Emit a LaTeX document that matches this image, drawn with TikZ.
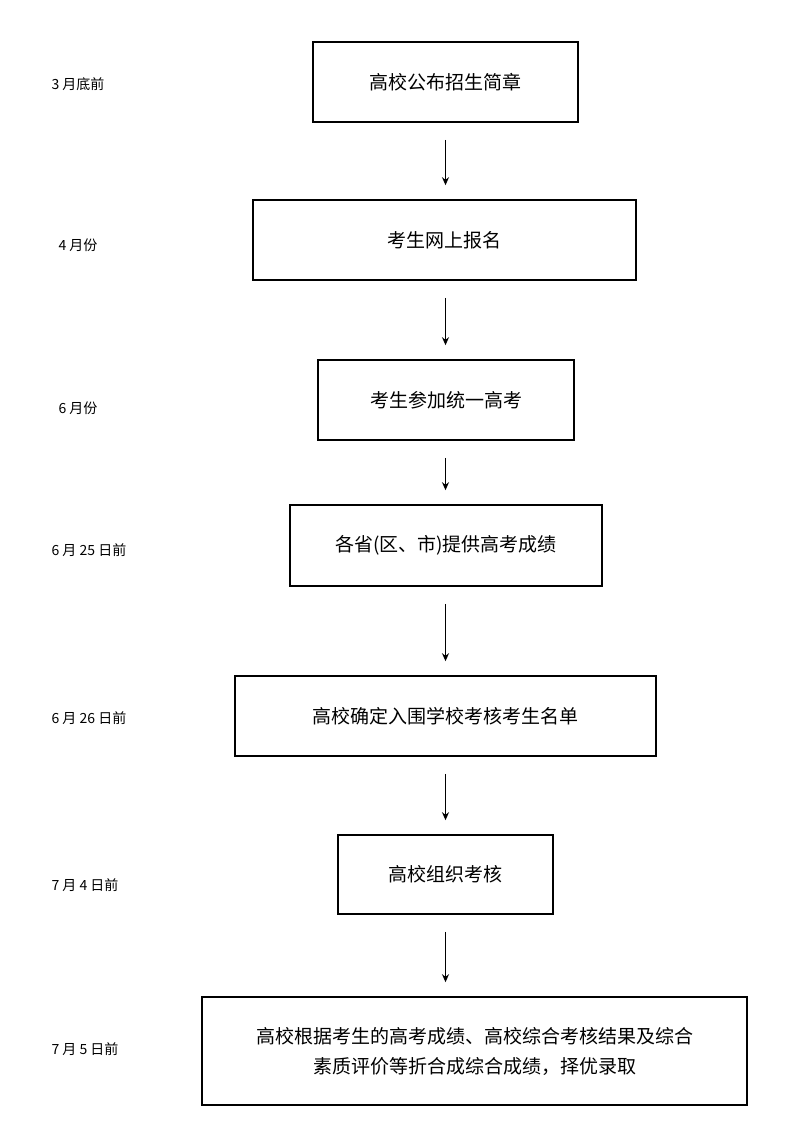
\documentclass[tikz,border=0pt]{standalone}
\usepackage{fontspec}
\setmainfont{Liberation Serif}
\newfontfamily\cjk{Noto Sans CJK SC}
\usetikzlibrary{positioning,arrows.meta}
\tikzset{
  stage/.style={draw,line width=1.6pt,font=\cjk\fontsize{19}{30}\selectfont,align=center,inner sep=0pt},
  when/.style={anchor=west,font=\cjk\fontsize{14}{17}\selectfont},
  flow/.style={-{Stealth[length=8pt,width=7pt]},line width=1.2pt}
}
\begin{document}
\begin{tikzpicture}[x=1pt,y=-1pt]
  \useasboundingbox[fill=white] (0,0) rectangle (800,1142);
  % boxes
  \node[stage,minimum width=265,minimum height=80] (s1) at (445.5,82) {高校公布招生简章};
  \node[stage,minimum width=383,minimum height=80] (s2) at (444.5,240) {考生网上报名};
  \node[stage,minimum width=256,minimum height=80] (s3) at (446,400) {考生参加统一高考};
  \node[stage,minimum width=312,minimum height=81] (s4) at (446,545.5) {各省(区、市)提供高考成绩};
  \node[stage,minimum width=421,minimum height=80] (s5) at (445.5,716) {高校确定入围学校考核考生名单};
  \node[stage,minimum width=215,minimum height=79] (s6) at (445.5,874.5) {高校组织考核};
  \node[stage,minimum width=545,minimum height=108] (s7) at (474.5,1051) {高校根据考生的高考成绩、高校综合考核结果及综合\\素质评价等折合成综合成绩，择优录取};
  % arrows
  \foreach \a/\b in {s1/s2,s2/s3,s3/s4,s4/s5,s5/s6,s6/s7}
    \draw[flow] ([yshift=-17]\a.south -| s1.center) -- ([yshift=14]\b.north -| s1.center);
  % dates
  \node[when] (d1) at (48,84) {3 月底前};
  \node[when] (d2) at (55,245) {4 月份};
  \node[when] (d3) at (55,408) {6 月份};
  \node[when] (d4) at (48,550) {6 月 25 日前};
  \node[when] (d5) at (48,718) {6 月 26 日前};
  \node[when] (d6) at (48,885) {7 月 4 日前};
  \node[when] (d7) at (48,1049) {7 月 5 日前};
\end{tikzpicture}
\end{document}
